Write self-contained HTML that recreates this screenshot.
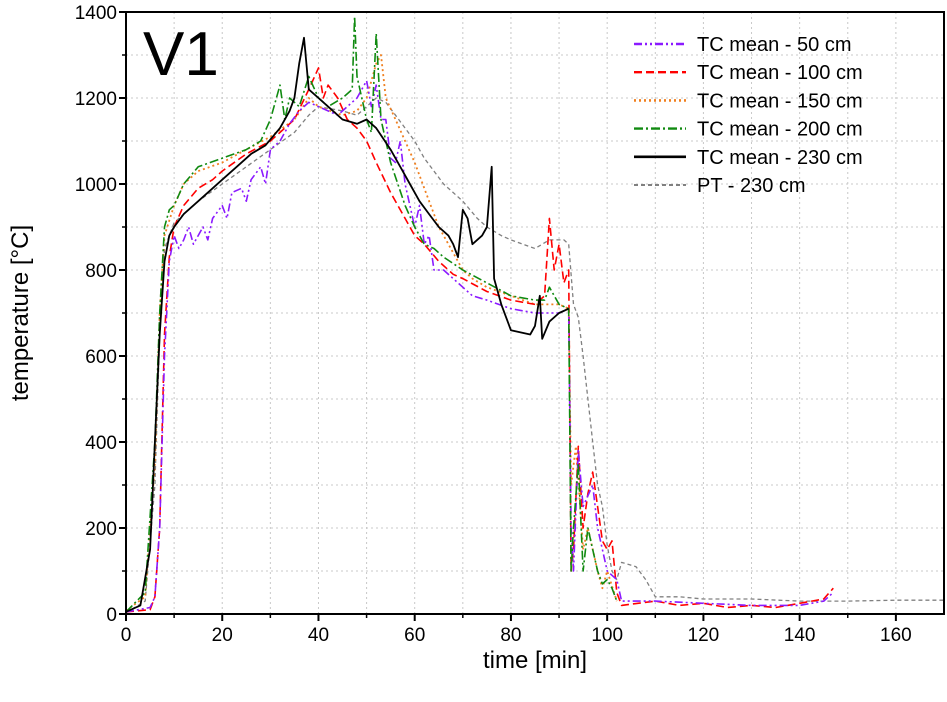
<!DOCTYPE html>
<html><head><meta charset="utf-8"><style>
html,body{margin:0;padding:0;background:#fff;}
svg{display:block;font-family:"Liberation Sans",sans-serif;}
</style></head><body>
<svg id="chart" width="947" height="702"></svg>
<script>
const xTicks=[0,20,40,60,80,100,120,140,160];
const yTicks=[0,200,400,600,800,1000,1200,1400];
const seriesNames=["TC mean - 50 cm","TC mean - 100 cm","TC mean - 150 cm","TC mean - 200 cm","TC mean - 230 cm","PT - 230 cm"];
const tc50=[[0,5],[5,15],[6,40],[7,200],[8,600],[9,820],[10,880],[11,850],[12,870],[13,900],[14,860],[16,900],[17,870],[18,920],[20,950],[21,920],[22,980],[24,990],[25,960],[26,1010],[28,1040],[29,1000],[30,1080],[32,1100],[34,1140],[36,1170],[38,1190],[40,1180],[42,1170],[44,1160],[46,1180],[48,1200],[50,1240],[51,1180],[52,1230],[53,1150],[54,1150],[55,1060],[56,1050],[57,1100],[58,1000],[60,900],[61,950],[62,860],[63,880],[64,800],[66,800],[68,780],[70,760],[72,740],[75,730],[80,710],[85,700],[90,700],[92,710],[92.5,200],[93,100],[94,380],[95,250],[97,300],[98,200],[100,100],[102,80],[103,30],[110,30],[120,25],[130,20],[140,20],[145,30],[147,50]];
const tc100=[[0,5],[5,10],[6,40],[7,200],[8,650],[9,830],[10,900],[12,950],[15,990],[18,1010],[20,1030],[25,1070],[30,1100],[35,1150],[38,1220],[40,1270],[41,1200],[42,1230],[44,1200],[46,1150],[48,1130],[50,1100],[52,1050],[55,980],[58,920],[60,880],[62,860],[65,820],[68,790],[70,780],[75,750],[80,730],[85,720],[87,740],[88,920],[89,800],[90,860],[91,770],[92,800],[92.5,100],[93,150],[94,390],[95,200],[96,280],[97,330],[98,250],[99,170],[100,150],[101,170],[102,50],[103,20],[110,30],[115,20],[120,25],[125,15],[130,20],[135,15],[140,25],[145,35],[147,60]];
const tc150=[[0,8],[4,40],[6,350],[7,700],[8,880],[10,950],[12,1000],[15,1030],[20,1050],[25,1080],[30,1110],[35,1150],[38,1200],[40,1180],[45,1160],[48,1170],[50,1200],[52,1280],[53,1300],[54,1200],[56,1150],[58,1100],[60,1050],[62,990],[65,900],[68,840],[70,800],[72,780],[75,760],[80,740],[85,720],[90,720],[92,710],[92.5,300],[93.5,390],[95,150],[96,200],[98,100],[99,60],[100,100],[102,30]];
const tc200=[[0,5],[4,50],[6,400],[7,700],[8,900],[9,940],[10,950],[12,1000],[15,1040],[20,1060],[25,1080],[28,1100],[30,1150],[32,1230],[33,1150],[34,1200],[36,1180],[38,1250],[40,1200],[42,1180],[45,1200],[47,1220],[47.5,1390],[48,1250],[50,1150],[51,1120],[52,1350],[53,1150],[55,1050],[58,950],[60,900],[62,860],[64,850],[66,830],[70,800],[75,770],[80,740],[85,730],[87,730],[88,760],[90,720],[92,710],[92.5,100],[93,200],[94,350],[95,100],[96,200],[97,150],[98,100],[99,70],[100,80],[101,60],[102,30]];
const tc230=[[0,5],[3,20],[5,150],[6,400],[7,650],[8,820],[9,880],[10,900],[12,930],[15,960],[18,990],[20,1010],[23,1040],[26,1070],[29,1090],[32,1130],[34,1170],[35,1200],[36,1280],[37,1340],[38,1220],[40,1200],[42,1180],[45,1150],[48,1140],[50,1150],[52,1130],[55,1080],[57,1040],[59,1000],[61,960],[63,930],[65,900],[67,880],[68,860],[69,830],[70,940],[71,920],[72,860],[74,880],[75,900],[76,1040],[76.5,780],[78,720],[79,690],[80,660],[84,650],[85,670],[86,740],[86.5,640],[88,680],[90,700],[92,710]];
const pt230=[[0,3],[4,30],[6,300],[7,650],[8,850],[9,880],[10,910],[15,960],[20,1000],[25,1040],[30,1080],[35,1120],[38,1160],[40,1180],[45,1170],[48,1160],[50,1180],[52,1200],[54,1190],[56,1160],[58,1130],[60,1100],[62,1060],[66,1000],[70,960],[73,920],[75,900],[78,880],[80,870],[85,850],[88,870],[91,870],[92,860],[93,720],[94,690],[95,600],[96,500],[97,400],[98,300],[99,250],[100,160],[101,100],[102,80],[103,120],[106,110],[108,80],[110,40],[115,40],[120,35],[130,35],[140,30],[150,30],[160,32],[170,32]];

const NS="http://www.w3.org/2000/svg";
const svg=document.getElementById("chart");
const X0=126,X1=944,Y0=614,Y1=12;
const xs=t=>X0+t/170*(X1-X0);
const ys=v=>Y0-v/1400*(Y0-Y1);
function mk(tag,attrs,parent){const e=document.createElementNS(NS,tag);for(const k in attrs)e.setAttribute(k,attrs[k]);(parent||svg).appendChild(e);return e;}

const grid=mk("g",{});


for(let t=10;t<170;t+=10)mk("line",{x1:xs(t),x2:xs(t),y1:Y1,y2:Y0,stroke:"#c8c8c8","stroke-dasharray":"2,3","stroke-width":1},grid);
for(let v=100;v<1400;v+=100)mk("line",{x1:X0,x2:X1,y1:ys(v),y2:ys(v),stroke:"#c8c8c8","stroke-dasharray":"2,3","stroke-width":1},grid);

const styles=[
 {c:"#8b1aff",d:"8,3,2,3,2,3",w:1.6,data:tc50},
 {c:"#ff0000",d:"8,4",w:1.6,data:tc100},
 {c:"#f08020",d:"2,3",w:1.8,data:tc150},
 {c:"#108a10",d:"9,3,2,3",w:1.6,data:tc200},
 {c:"#000000",d:"",w:1.8,data:tc230},
 {c:"#808080",d:"4,3",w:1.3,data:pt230}];
const order=[5,2,1,0,3,4];
order.forEach(i=>{const s=styles[i];
 const p=mk("path",{d:s.data.map((q,j)=>(j?"L":"M")+xs(q[0]).toFixed(1)+","+ys(q[1]).toFixed(1)).join(""),fill:"none",stroke:s.c,"stroke-width":s.w,"stroke-dasharray":s.d,"stroke-linejoin":"round"});
 
 
});

const ax=mk("g",{});


mk("rect",{x:X0,y:Y1,width:X1-X0,height:Y0-Y1,fill:"none",stroke:"#000","stroke-width":2},ax);
xTicks.forEach(t=>{mk("line",{x1:xs(t),x2:xs(t),y1:Y0,y2:Y0+7,stroke:"#000","stroke-width":2},ax);
 const tx=mk("text",{x:xs(t),y:Y0+27,"text-anchor":"middle","font-size":19},ax);tx.textContent=t;
 
 });
for(let t=10;t<170;t+=20)mk("line",{x1:xs(t),x2:xs(t),y1:Y0,y2:Y0+4,stroke:"#000","stroke-width":1.5},ax);
yTicks.forEach(v=>{mk("line",{x1:X0-7,x2:X0,y1:ys(v),y2:ys(v),stroke:"#000","stroke-width":2},ax);
 const tx=mk("text",{x:X0-9,y:ys(v)+7,"text-anchor":"end","font-size":19},ax);tx.textContent=v;
 
 });
for(let v=100;v<1400;v+=200)mk("line",{x1:X0-4,x2:X0,y1:ys(v),y2:ys(v),stroke:"#000","stroke-width":1.5},ax);

const xt=mk("text",{x:535,y:668,"text-anchor":"middle","font-size":24});xt.textContent="time [min]";


const yt=mk("text",{x:0,y:0,"text-anchor":"middle","font-size":24,transform:"translate(28,313) rotate(-90)"});yt.textContent="temperature [°C]";


const v1=mk("text",{x:143,y:75,"font-size":62});v1.textContent="V1";



seriesNames.forEach((n,i)=>{const s=styles[i];const y=44+i*28.2;
 const g=mk("g",{});
 
 
 mk("line",{x1:634,x2:686,y1:y,y2:y,stroke:s.c,"stroke-width":s.w+0.8,"stroke-dasharray":s.d},g);
 const tx=mk("text",{x:697,y:y+7,"font-size":20},g);tx.textContent=n;});
</script>
</body></html>
